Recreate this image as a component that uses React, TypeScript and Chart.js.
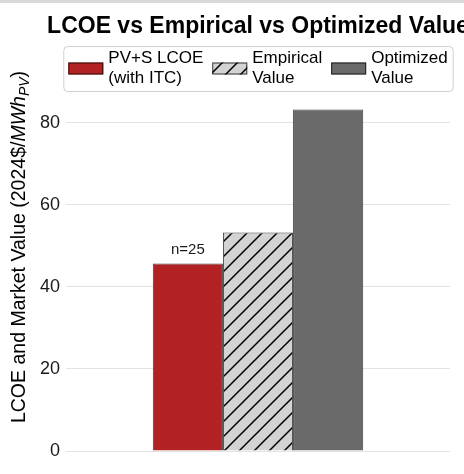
import React, { useEffect, useRef } from "react";
import { Chart, registerables } from "chart.js";

Chart.register(...registerables);

const categories = [""];
const seriesNames = ["PV+S LCOE (with ITC)", "Empirical Value", "Optimized Value"];
const legendLines = [
  ["PV+S LCOE", "(with ITC)"],
  ["Empirical", "Value"],
  ["Optimized", "Value"],
];
const seriesValues = [45.7, 53.3, 83.3];
const seriesFills = ["#b22222", "hatch", "#696969"];
const yMin = 0;
const yMax = 99;
const yStep = 20;
const annotationText = "n=25";
const chartTitle = "LCOE vs Empirical vs Optimized Value";
const yTitleParts = [
  { text: "LCOE and Market Value (2024$/", style: "normal", sub: false },
  { text: "MWh", style: "italic", sub: false },
  { text: "PV", style: "italic", sub: true },
  { text: ")", style: "normal", sub: false },
];

const FONT = "'Liberation Sans', Arial, sans-serif";

function makeHatch(): CanvasPattern | string {
  const s = 15;
  const c = document.createElement("canvas");
  c.width = s;
  c.height = s;
  const g = c.getContext("2d");
  if (!g) return "#d3d3d3";
  g.fillStyle = "#d3d3d3";
  g.fillRect(0, 0, s, s);
  g.strokeStyle = "#000";
  g.lineWidth = 1.5;
  g.beginPath();
  g.moveTo(-2, s + 2);
  g.lineTo(s + 2, -2);
  g.moveTo(-2, 2);
  g.lineTo(2, -2);
  g.moveTo(s - 2, s + 2);
  g.lineTo(s + 2, s - 2);
  g.stroke();
  const p = g.createPattern(c, "repeat");
  return p || "#d3d3d3";
}

export default function App() {
  const ref = useRef<HTMLCanvasElement | null>(null);

  useEffect(() => {
    const canvas = ref.current;
    if (!canvas) return;
    const hatch = makeHatch();
    const fills = seriesFills.map((f) => (f === "hatch" ? hatch : f));

    const drawPlugin = {
      id: "customDraw",
      beforeDraw(chart: any) {
        const ctx = chart.ctx;
        ctx.save();
        ctx.fillStyle = "#ffffff";
        ctx.fillRect(0, 0, chart.width, chart.height);
        ctx.fillStyle = "#d9d9d9";
        ctx.fillRect(0, 0, chart.width, 3);
        ctx.restore();
      },
      afterDatasetsDraw(chart: any) {
        const ctx = chart.ctx;
        const meta = chart.getDatasetMeta(0);
        const bar = meta.data[0];
        ctx.save();
        ctx.font = `15px ${FONT}`;
        ctx.fillStyle = "#1a1a1a";
        ctx.textAlign = "center";
        ctx.textBaseline = "alphabetic";
        ctx.fillText(annotationText, bar.x, bar.y - 10);
        ctx.restore();
      },
      afterDraw(chart: any) {
        const ctx = chart.ctx;
        const area = chart.chartArea;
        const cx = (area.left + area.right) / 2;
        const cy = (area.top + area.bottom) / 2;
        ctx.save();
        // Title
        ctx.font = `bold 23px ${FONT}`;
        ctx.fillStyle = "#000";
        ctx.textAlign = "center";
        ctx.textBaseline = "alphabetic";
        ctx.fillText(chartTitle, cx, 33);

        // Legend
        const fs = 17;
        ctx.font = `${fs}px ${FONT}`;
        const swW = 35, swH = 12, swGap = 5, itemGap = 9, pad = 5;
        const widths = legendLines.map((ls) =>
          Math.max(...ls.map((l) => ctx.measureText(l).width))
        );
        let total = pad * 2;
        widths.forEach((w, i) => {
          total += swW + swGap + w + (i < widths.length - 1 ? itemGap : 0);
        });
        const boxL = cx - total / 2;
        const boxT = 46, boxH = 45;
        ctx.beginPath();
        (ctx as any).roundRect(boxL + 0.5, boxT + 0.5, total, boxH, 4);
        ctx.fillStyle = "rgba(255,255,255,0.8)";
        ctx.fill();
        ctx.strokeStyle = "#d0d0d0";
        ctx.lineWidth = 1;
        ctx.stroke();
        let x = boxL + pad;
        const midY = boxT + boxH / 2;
        legendLines.forEach((ls, i) => {
          ctx.fillStyle = fills[i] as any;
          ctx.fillRect(x, midY - swH / 2, swW, swH);
          ctx.strokeStyle = "rgba(0,0,0,0.75)";
          ctx.lineWidth = 1;
          ctx.strokeRect(x + 0.5, midY - swH / 2 + 0.5, swW - 1, swH - 1);
          ctx.fillStyle = "#000";
          ctx.textAlign = "left";
          ctx.textBaseline = "middle";
          ctx.fillText(ls[0], x + swW + swGap, midY - 10);
          ctx.fillText(ls[1], x + swW + swGap, midY + 10);
          x += swW + swGap + widths[i] + itemGap;
        });

        // Y axis title
        const tfs = 19.5;
        const fontFor = (p: any) =>
          `${p.style === "italic" ? "italic " : ""}${p.sub ? Math.round(tfs * 0.7) : tfs}px ${FONT}`;
        let tw = 0;
        yTitleParts.forEach((p) => {
          ctx.font = fontFor(p);
          tw += ctx.measureText(p.text).width;
        });
        ctx.translate(20, cy - 1);
        ctx.rotate(-Math.PI / 2);
        ctx.textAlign = "left";
        ctx.textBaseline = "middle";
        ctx.fillStyle = "#000";
        let tx = -tw / 2;
        yTitleParts.forEach((p) => {
          ctx.font = fontFor(p);
          ctx.fillText(p.text, tx, p.sub ? 5 : 0);
          tx += ctx.measureText(p.text).width;
        });
        ctx.restore();
      },
    };

    const chart = new Chart(canvas, {
      type: "bar",
      data: {
        labels: categories,
        datasets: seriesNames.map((name, i) => ({
          label: name,
          data: [seriesValues[i]],
          backgroundColor: fills[i] as any,
          borderColor: "rgba(0,0,0,0.75)",
          borderWidth: 1,
          categoryPercentage: 0.548,
          barPercentage: 1,
        })),
      },
      options: {
        animation: false,
        responsive: false,
        devicePixelRatio: 1,
        layout: { padding: { left: 0, right: 14, top: 45, bottom: 23 } },
        plugins: {
          legend: { display: false },
          title: { display: false },
          tooltip: { enabled: false },
        },
        scales: {
          x: { display: false },
          y: {
            min: yMin,
            max: yMax,
            border: { display: false },
            grid: { color: "#e3e3e3", lineWidth: 1, drawTicks: false },
            ticks: {
              stepSize: yStep,
              padding: 6,
              color: "#1a1a1a",
              font: { size: 18, family: FONT },
            },
            afterBuildTicks(scale: any) {
              scale.ticks = scale.ticks.filter((t: any) => t.value % yStep === 0);
            },
            afterFit(scale: any) {
              scale.width = 66;
            },
          },
        },
      },
      plugins: [drawPlugin],
    });
    return () => chart.destroy();
  }, []);

  return (
    <div style={{ position: "absolute", left: 0, top: 0, width: 464, height: 474 }}>
      <canvas ref={ref} width={464} height={474} style={{ display: "block" }} />
    </div>
  );
}
